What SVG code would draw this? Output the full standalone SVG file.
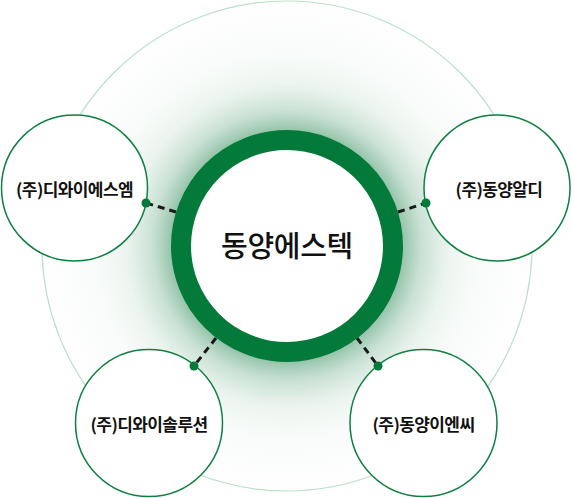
<svg xmlns="http://www.w3.org/2000/svg" width="572" height="498" viewBox="0 0 572 498">
<style>
.sat{fill:#fff;stroke:#0f8042;stroke-width:1.5}
.lbl{font-family:"Noto Sans CJK KR","Noto Sans",sans-serif;font-size:17px;font-weight:700;fill:#111;text-anchor:middle;letter-spacing:-0.6px}
.main{font-family:"Noto Sans CJK KR","Noto Sans",sans-serif;font-size:29px;font-weight:500;fill:#111;text-anchor:middle;letter-spacing:-0.3px}
.dash{stroke:#1a1a1a;stroke-width:3;stroke-dasharray:7 5;fill:none}
.dot{fill:#037a3a}
</style>
<defs>
<radialGradient id="glow" cx="287" cy="246" r="245" gradientUnits="userSpaceOnUse">
<stop offset="0" stop-color="#2e8b57" stop-opacity="0.55"/>
<stop offset="0.46" stop-color="#2e8b57" stop-opacity="0.55"/>
<stop offset="0.55" stop-color="#4a9a6c" stop-opacity="0.3"/>
<stop offset="0.66" stop-color="#6aae87" stop-opacity="0.13"/>
<stop offset="0.8" stop-color="#9cc9ae" stop-opacity="0.06"/>
<stop offset="1" stop-color="#d3e8db" stop-opacity="0.03"/>
</radialGradient>
</defs>
<g id="background">
<circle cx="287" cy="246" r="245" fill="url(#glow)" stroke="#bddfca" stroke-width="1.2"/>
</g>
<g id="node-dysm">
<circle class="sat" cx="74.5" cy="188" r="73"/>
<text class="lbl" x="74.5" y="196">(주)디와이에스엠</text>
</g>
<g id="node-dyrd">
<circle class="sat" cx="497" cy="188" r="73"/>
<text class="lbl" x="499" y="196">(주)동양알디</text>
</g>
<g id="node-dysol">
<circle class="sat" cx="149" cy="423" r="73.5"/>
<text class="lbl" x="149" y="431">(주)디와이솔루션</text>
</g>
<g id="node-dyenc">
<circle class="sat" cx="423.5" cy="423" r="73.5"/>
<text class="lbl" x="423.5" y="431">(주)동양이엔씨</text>
</g>
<g id="connectors">
<line class="dash" x1="176" y1="212" x2="146" y2="203"/>
<line class="dash" x1="398" y1="212" x2="426" y2="203"/>
<line class="dash" x1="216" y1="338" x2="194" y2="366"/>
<line class="dash" x1="357" y1="338" x2="378" y2="366"/>
<circle class="dot" cx="146" cy="203" r="4.5"/>
<circle class="dot" cx="426" cy="203" r="4.5"/>
<circle class="dot" cx="194" cy="366" r="4.5"/>
<circle class="dot" cx="378" cy="366" r="4.5"/>
</g>
<g id="node-center">
<circle cx="287" cy="246" r="106" fill="#fff" stroke="#037a3a" stroke-width="20"/>
<text class="main" x="287" y="257">동양에스텍</text>
</g>
</svg>
